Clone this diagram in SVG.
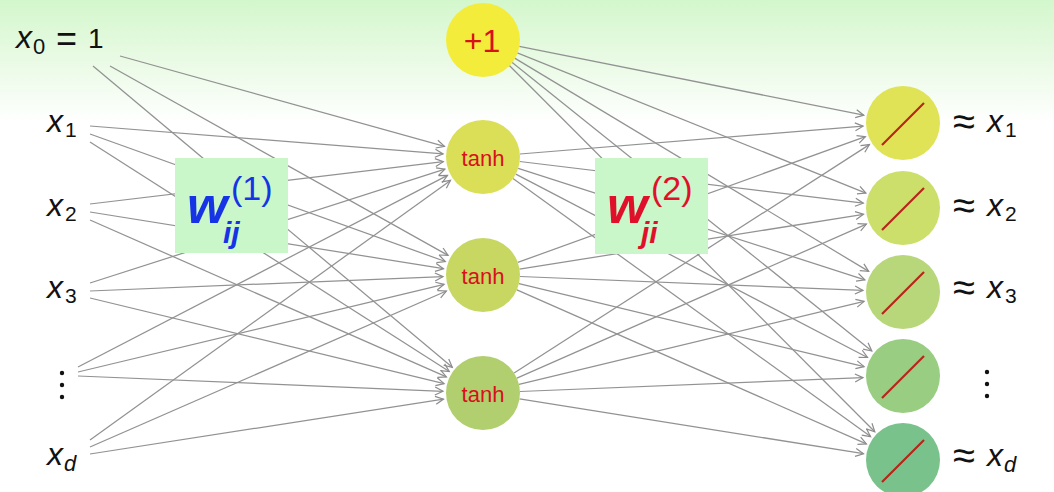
<svg xmlns="http://www.w3.org/2000/svg" width="1054" height="492" viewBox="0 0 1054 492">
<defs>
<linearGradient id="bg" x1="0" y1="0" x2="0" y2="1" gradientUnits="objectBoundingBox">
<stop offset="0" stop-color="#d3f7cc"/>
<stop offset="0.12" stop-color="#e9fae4"/>
<stop offset="0.25" stop-color="#ffffff"/>
<stop offset="1" stop-color="#ffffff"/>
</linearGradient>
<marker id="arr" markerUnits="userSpaceOnUse" markerWidth="12" markerHeight="12" refX="9" refY="5" orient="auto">
<path d="M1,1 L9,5 L1,9" fill="none" stroke="#8c8c8c" stroke-width="1.2"/>
</marker>
<style>
.ln{stroke:#929292;stroke-width:1.25;fill:none;marker-end:url(#arr)}
.lab{font-family:"Liberation Sans",Arial,sans-serif;fill:#111}
.it{font-style:italic}
.hid{font-family:"Liberation Sans",Arial,sans-serif;fill:#d8101c;text-anchor:middle}
.slash{stroke:#b8241a;stroke-width:2.2}
.wbox{fill:#c9f7c9}
</style>
</defs>
<rect x="0" y="0" width="1054" height="492" fill="url(#bg)"/>

<g id="connectors">
<line class="ln" x1="120" y1="56" x2="444.5" y2="146.3"/>
<line class="ln" x1="110" y1="66" x2="448.1" y2="255.4"/>
<line class="ln" x1="93" y1="66" x2="452.3" y2="367.3"/>
<line class="ln" x1="90" y1="126" x2="443.1" y2="153.9"/>
<line class="ln" x1="90" y1="134" x2="445.3" y2="261.5"/>
<line class="ln" x1="90" y1="142" x2="449.3" y2="371.5"/>
<line class="ln" x1="90" y1="204" x2="443.3" y2="161.7"/>
<line class="ln" x1="90" y1="212" x2="443.5" y2="268.7"/>
<line class="ln" x1="90" y1="220" x2="446.4" y2="376.9"/>
<line class="ln" x1="90" y1="283" x2="444.9" y2="169.2"/>
<line class="ln" x1="90" y1="291" x2="443.0" y2="276.6"/>
<line class="ln" x1="90" y1="298" x2="444.1" y2="383.6"/>
<line class="ln" x1="78" y1="367" x2="447.5" y2="175.4"/>
<line class="ln" x1="78" y1="372" x2="444.1" y2="284.3"/>
<line class="ln" x1="78" y1="376" x2="443.0" y2="391.3"/>
<line class="ln" x1="90" y1="440" x2="450.5" y2="180.4"/>
<line class="ln" x1="90" y1="447" x2="446.4" y2="291.0"/>
<line class="ln" x1="90" y1="454" x2="443.5" y2="399.1"/>

<line class="ln" x1="519.3" y1="46.3" x2="863.8" y2="115.2"/>
<line class="ln" x1="517.3" y1="52.8" x2="865.9" y2="193.1"/>
<line class="ln" x1="514.7" y1="58.1" x2="868.7" y2="271.4"/>
<line class="ln" x1="511.9" y1="62.2" x2="871.8" y2="351.0"/>
<line class="ln" x1="509.1" y1="65.2" x2="874.8" y2="431.7"/>
<line class="ln" x1="519.9" y1="154.0" x2="863.1" y2="126.2"/>
<line class="ln" x1="519.7" y1="161.5" x2="863.3" y2="203.2"/>
<line class="ln" x1="518.2" y1="168.3" x2="864.9" y2="279.8"/>
<line class="ln" x1="515.8" y1="174.1" x2="867.5" y2="357.5"/>
<line class="ln" x1="513.0" y1="178.6" x2="870.6" y2="436.6"/>
<line class="ln" x1="517.8" y1="262.4" x2="865.4" y2="136.6"/>
<line class="ln" x1="519.5" y1="269.2" x2="863.5" y2="214.3"/>
<line class="ln" x1="520.0" y1="276.5" x2="863.0" y2="290.4"/>
<line class="ln" x1="519.0" y1="283.7" x2="864.1" y2="366.6"/>
<line class="ln" x1="516.9" y1="289.9" x2="866.4" y2="443.9"/>
<line class="ln" x1="514.1" y1="373.0" x2="869.4" y2="144.6"/>
<line class="ln" x1="516.9" y1="378.1" x2="866.4" y2="224.1"/>
<line class="ln" x1="519.0" y1="384.3" x2="864.1" y2="301.4"/>
<line class="ln" x1="520.0" y1="391.5" x2="863.0" y2="377.6"/>
<line class="ln" x1="519.5" y1="398.8" x2="863.5" y2="453.7"/>
</g>

<g id="w1">
<rect class="wbox" x="175" y="158" width="113" height="95"/>
<text font-family="Liberation Sans,Arial,sans-serif" fill="#1633e6"><tspan x="187" y="223" font-size="52" font-weight="bold" font-style="italic">w</tspan><tspan x="223" y="243" font-size="30" font-weight="bold" font-style="italic">ij</tspan><tspan x="231" y="200" font-size="34">(1)</tspan></text>
</g>
<g id="w2">
<rect class="wbox" x="595" y="158" width="113" height="96"/>
<text font-family="Liberation Sans,Arial,sans-serif" fill="#e0102a"><tspan x="607" y="223" font-size="52" font-weight="bold" font-style="italic">w</tspan><tspan x="641" y="243" font-size="30" font-weight="bold" font-style="italic">ji</tspan><tspan x="651" y="200" font-size="34">(2)</tspan></text>
</g>

<g id="in0"><text class="lab"><tspan class="it" x="16" y="48" font-size="32">x</tspan><tspan x="33" y="54" font-size="22">0</tspan><tspan x="56" y="51" font-size="36">=</tspan><tspan x="88" y="48" font-size="28">1</tspan></text></g>
<g id="in1"><text class="lab"><tspan class="it" x="47" y="132" font-size="32">x</tspan><tspan x="65" y="137" font-size="21">1</tspan></text></g>
<g id="in2"><text class="lab"><tspan class="it" x="47" y="216" font-size="32">x</tspan><tspan x="65" y="221" font-size="21">2</tspan></text></g>
<g id="in3"><text class="lab"><tspan class="it" x="47" y="298" font-size="32">x</tspan><tspan x="65" y="303" font-size="21">3</tspan></text></g>
<g id="indots" fill="#111"><circle cx="62" cy="373" r="2.2"/><circle cx="62" cy="385" r="2.2"/><circle cx="62" cy="397" r="2.2"/></g>
<g id="ind"><text class="lab"><tspan class="it" x="47" y="465" font-size="32">x</tspan><tspan class="it" x="64" y="471" font-size="22">d</tspan></text></g>

<g id="bias"><circle cx="483" cy="40" r="37" fill="#f3ec3a"/><text class="hid" x="482" y="52" font-size="32">+1</text></g>
<g id="h1"><circle cx="483" cy="157" r="37" fill="#dbdf58"/><text class="hid" x="483" y="166" font-size="22">tanh</text></g>
<g id="h2"><circle cx="483" cy="275" r="37" fill="#c7d762"/><text class="hid" x="483" y="284" font-size="22">tanh</text></g>
<g id="h3"><circle cx="483" cy="393" r="37" fill="#b1cf6e"/><text class="hid" x="483" y="402" font-size="22">tanh</text></g>

<g id="o1"><circle cx="903" cy="123" r="37" fill="#e0e356"/><line class="slash" x1="882" y1="145" x2="924" y2="103"/></g>
<g id="o2"><circle cx="903" cy="208" r="37" fill="#cbdf6a"/><line class="slash" x1="882" y1="230" x2="924" y2="188"/></g>
<g id="o3"><circle cx="903" cy="292" r="37" fill="#b7d77a"/><line class="slash" x1="882" y1="314" x2="924" y2="272"/></g>
<g id="o4"><circle cx="903" cy="376" r="37" fill="#99cd82"/><line class="slash" x1="882" y1="398" x2="924" y2="356"/></g>
<g id="o5"><circle cx="903" cy="460" r="37" fill="#79c28c"/><line class="slash" x1="882" y1="482" x2="924" y2="440"/></g>

<g id="out1"><text class="lab"><tspan x="953" y="135" font-size="40">≈</tspan><tspan class="it" x="987" y="132" font-size="32">x</tspan><tspan x="1005" y="137" font-size="21">1</tspan></text></g>
<g id="out2"><text class="lab"><tspan x="953" y="219" font-size="40">≈</tspan><tspan class="it" x="987" y="216" font-size="32">x</tspan><tspan x="1005" y="221" font-size="21">2</tspan></text></g>
<g id="out3"><text class="lab"><tspan x="953" y="301" font-size="40">≈</tspan><tspan class="it" x="987" y="298" font-size="32">x</tspan><tspan x="1005" y="303" font-size="21">3</tspan></text></g>
<g id="outdots" fill="#111"><circle cx="987" cy="372" r="2.2"/><circle cx="987" cy="384" r="2.2"/><circle cx="987" cy="396" r="2.2"/></g>
<g id="outd"><text class="lab"><tspan x="953" y="469" font-size="40">≈</tspan><tspan class="it" x="987" y="466" font-size="32">x</tspan><tspan class="it" x="1004" y="472" font-size="22">d</tspan></text></g>
</svg>
